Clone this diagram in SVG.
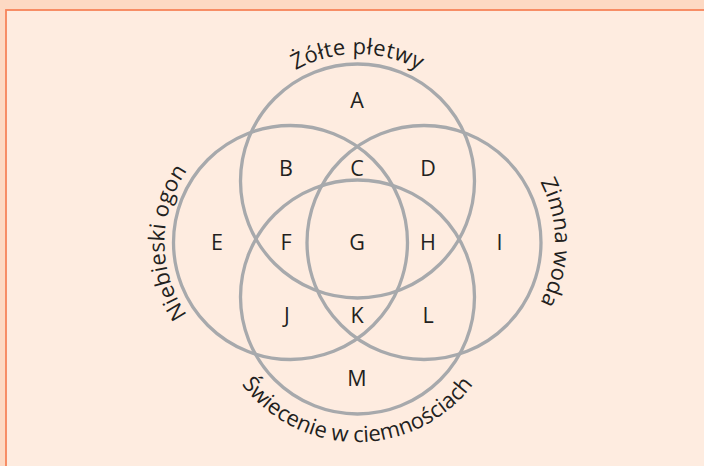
<svg xmlns="http://www.w3.org/2000/svg" width="704" height="466" viewBox="0 0 704 466">
<style>
.c{fill:none;stroke:#a7a9ac;stroke-width:3.3}
.l{font-family:"Open Sans","Noto Sans","Liberation Sans",sans-serif;font-size:21.5px;fill:#231f20;text-anchor:middle}
.t{font-family:"Open Sans","Noto Sans","Liberation Sans",sans-serif;font-size:22px;fill:#231f20}
</style>
<defs>
<path id="pTop" d="M230.5,181 A127,127 0 0 1 484.5,181"/>
<path id="pLeft" d="M290.5,368.5 A126,126 0 0 1 290.5,116.5"/>
<path id="pRight" d="M424,111.5 A131,131 0 0 1 424,373.5"/>
<path id="pBottom" d="M212.5,297 A145,145 0 0 0 502.5,297"/>
</defs>
<rect x="0" y="0" width="704" height="466" fill="#fdd9c3"/>
<rect x="6" y="10" width="720" height="480" fill="#feece0" stroke="#f7845a" stroke-width="1.8"/>
<g id="circles">
<circle id="circle-top" class="c" cx="357.5" cy="181" r="117"/>
<circle id="circle-left" class="c" cx="290.5" cy="242.5" r="117"/>
<circle id="circle-right" class="c" cx="424" cy="242.5" r="117"/>
<circle id="circle-bottom" class="c" cx="357.5" cy="297" r="117"/>
</g>
<g id="set-labels">
<text id="label-top" class="t" letter-spacing="0.4"><textPath href="#pTop" startOffset="50%" text-anchor="middle">Żółte płetwy</textPath></text>
<text id="label-left" class="t" letter-spacing="0.2"><textPath href="#pLeft" startOffset="50%" text-anchor="middle">Niebieski ogon</textPath></text>
<text id="label-right" class="t"><textPath href="#pRight" startOffset="50%" text-anchor="middle">Zimna woda</textPath></text>
<text id="label-bottom" class="t" font-size="21.5"><textPath href="#pBottom" startOffset="50%" text-anchor="middle">Świecenie w ciemnościach</textPath></text>
</g>
<g id="regions">
<text id="A" class="l" x="357" y="108">A</text>
<text id="B" class="l" x="286" y="176">B</text>
<text id="C" class="l" x="357" y="176">C</text>
<text id="D" class="l" x="428" y="176">D</text>
<text id="E" class="l" x="217" y="250">E</text>
<text id="F" class="l" x="286" y="250">F</text>
<text id="G" class="l" x="357" y="250">G</text>
<text id="H" class="l" x="428" y="250">H</text>
<text id="I" class="l" x="499.5" y="250">I</text>
<text id="J" class="l" x="287" y="323">J</text>
<text id="K" class="l" x="357" y="323">K</text>
<text id="L" class="l" x="428" y="323">L</text>
<text id="M" class="l" x="357" y="386">M</text>
</g>
</svg>
